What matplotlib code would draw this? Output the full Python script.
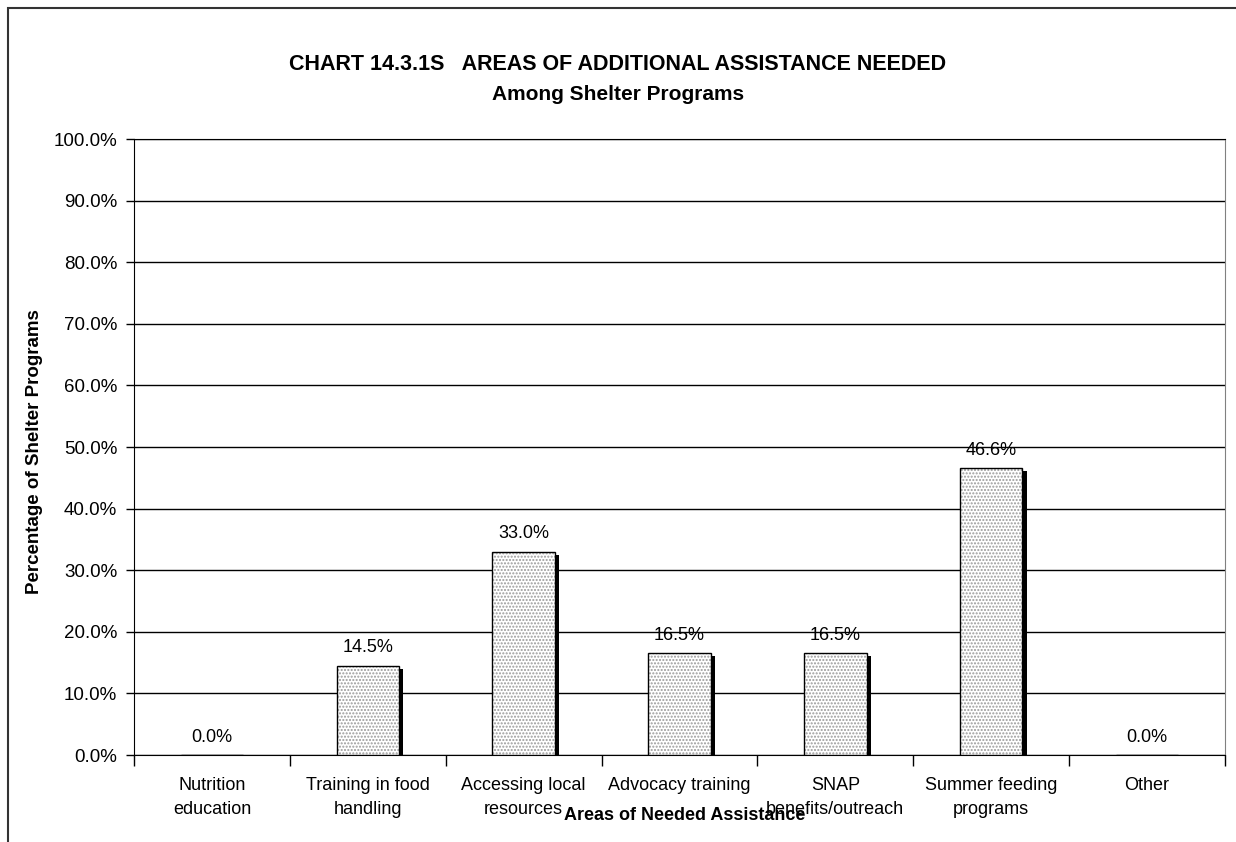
import numpy as np
import matplotlib
matplotlib.use('Agg')
import matplotlib.pyplot as plt
from matplotlib.patches import Rectangle

plt.rcParams['font.family'] = ['Liberation Sans', 'DejaVu Sans']

# data
categories = ['Nutrition\neducation', 'Training in food\nhandling', 'Accessing local\nresources',
              'Advocacy training', 'SNAP\nbenefits/outreach', 'Summer feeding\nprograms', 'Other']
values = [0.0, 14.5, 33.0, 16.5, 16.5, 46.6, 0.0]
yticks = [0, 10, 20, 30, 40, 50, 60, 70, 80, 90, 100]

fig = plt.figure(figsize=(12.36, 8.42), dpi=100)
ax = fig.add_axes([134 / 1236, 1 - 755 / 842, 1091 / 1236, 616 / 842])

x = np.arange(len(categories))
w = 0.4
# drop shadow, then dotted fill, then black outline
ax.bar(x + 0.028, [max(v - 0.5, 0) for v in values], w, bottom=0, color='black', zorder=2)
ax.bar(x, values, w, color='white', edgecolor='#9a9a9a', linewidth=0, hatch='.....', zorder=3)
ax.bar(x, values, w, fill=False, edgecolor='black', linewidth=1, zorder=4)

for xi, v in zip(x, values):
    ax.text(xi, v + 1.5, '%.1f%%' % v, ha='center', va='bottom', fontsize=13, zorder=5)

ax.set_xlim(-0.5, len(categories) - 0.5)
ax.set_ylim(0, 100)
ax.set_yticks(yticks)
ax.set_yticklabels(['%.1f%%' % t for t in yticks], fontsize=13.5)
ax.yaxis.grid(True, color='black', linewidth=1)
ax.set_axisbelow(True)

ax.set_xticks(x)
ax.set_xticklabels(categories, fontsize=13, linespacing=1.55)
ax.tick_params(axis='x', which='major', length=0, pad=16)
ax.set_xticks(np.arange(-0.5, len(categories)), minor=True)
ax.tick_params(axis='x', which='minor', length=8, width=1, direction='out')
ax.tick_params(axis='y', length=6, width=1, direction='out', pad=6)

ax.spines['right'].set_color('#808080')
ax.spines['top'].set_color('black')
for s in ['left', 'bottom']:
    ax.spines[s].set_color('black')

fig.text(618 / 1236, 1 - 65 / 842, 'CHART 14.3.1S   AREAS OF ADDITIONAL ASSISTANCE NEEDED',
         ha='center', va='center', fontsize=15.5, fontweight='bold')
fig.text(618 / 1236, 1 - 95 / 842, 'Among Shelter Programs',
         ha='center', va='center', fontsize=15, fontweight='bold')
fig.text(685 / 1236, 1 - 816 / 842, 'Areas of Needed Assistance',
         ha='center', va='center', fontsize=13, fontweight='bold')
fig.text(35 / 1236, 1 - 452 / 842, 'Percentage of Shelter Programs',
         ha='center', va='center', rotation=90, fontsize=13.5, fontweight='bold')

# outer chart border (runs off the right and bottom edges)
fig.add_artist(Rectangle((8 / 1236, -0.5), 2, 1.5 - 8 / 842, transform=fig.transFigure,
                         fill=False, edgecolor='#333333', linewidth=1.5))

fig.savefig('out.png', dpi=100)
